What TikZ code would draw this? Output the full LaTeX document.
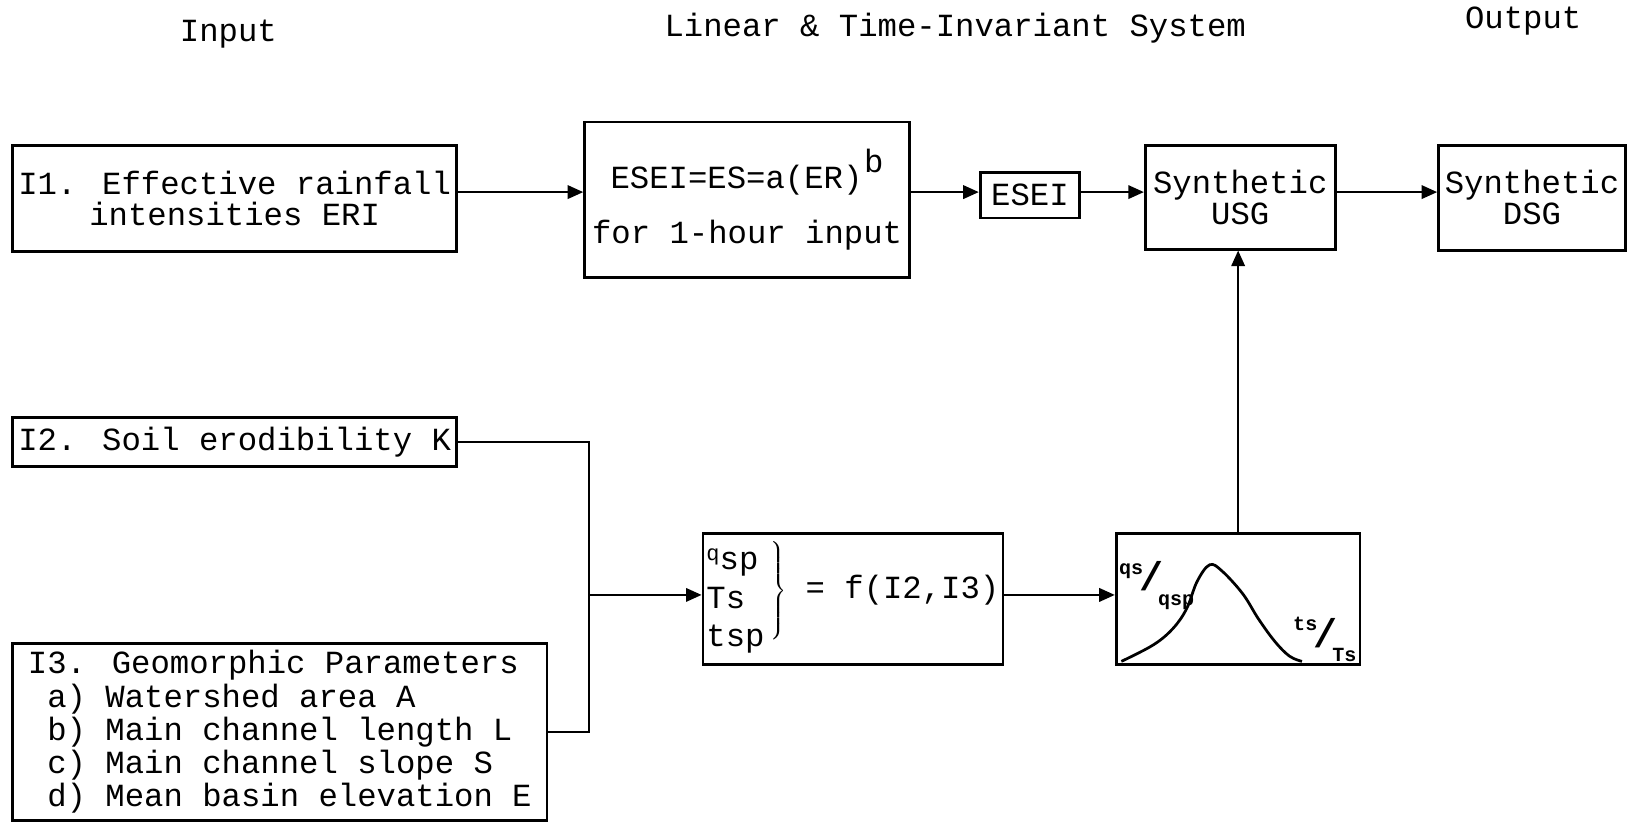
\documentclass[tikz,border=0pt]{standalone}
\usepackage{fontspec}
\newfontfamily\typewriter{Liberation Mono}
\usetikzlibrary{
    arrows.meta,
    positioning,
    calc
}
\newcommand{\slashfrac}[2]{%
    \raisebox{9pt}{#1}%
    \kern-0.2em{\fontsize{22}{22}\selectfont /}\kern-0.25em%
    \raisebox{-8pt}{#2}}

\begin{document}
\begin{tikzpicture}[
    x=0.02cm,
    y=-0.02cm,
    block/.style={
        draw,
        line width=1.5pt,
        inner sep=1pt,
        align=center,
        font=\typewriter\fontsize{17.7}{17}\selectfont
    },
    heading/.style={
        font=\typewriter\fontsize{17.7}{17}\selectfont
    },
    ratio/.style={
        inner sep=0pt,
        font=\typewriter\bfseries\fontsize{11}{11}\selectfont
    },
    arrow/.style={
        -{Triangle[length=0.3cm,width=0.26cm]},
        line width=1.1pt
    },
    link/.style={
        line width=1.1pt
    },
    hydrograph/.style={
        line width=1.5pt
    }
]
\useasboundingbox (0,0) rectangle (1568,792);
%
\node[heading] (hinput) at (220,33) {Input};
\node[heading] (hsystem) at (920,27) {Linear \& Time-Invariant System};
\node[heading] (houtput) at (1467,20) {Output};
%
\node[
    block,
    minimum width=8.56cm,
    minimum height=2.04cm
] (ione) at (226,191) {
    I1. Effective rainfall\\
    intensities ERI
};
%
\node[
    block,
    minimum width=6.26cm,
    minimum height=3.0cm
] (eqbox) at (719.5,192.5) {
    ESEI=ES=a(ER)\kern0.05em\raisebox{0.5em}{b}\\[13pt]
    for 1-hour input
};
%
\node[
    block,
    minimum width=1.92cm,
    minimum height=0.88cm
] (esei) at (992,188) {ESEI};
%
\node[
    block,
    minimum width=3.66cm,
    minimum height=2.0cm
] (usg) at (1194.5,190) {
    Synthetic\\
    USG
};
%
\node[
    block,
    minimum width=3.6cm,
    minimum height=2.02cm
] (dsg) at (1475.5,190.5) {
    Synthetic\\
    DSG
};
%
\node[
    block,
    minimum width=8.56cm,
    minimum height=0.94cm
] (itwo) at (226,425.5) {I2. Soil erodibility K};
%
\node[
    block,
    minimum width=10.3cm,
    minimum height=3.4cm,
    align=left,
    font=\typewriter\fontsize{17.7}{18.2}\selectfont
] (ithree) at (269.5,705) {
    I3. Geomorphic Parameters\\
    \ a) Watershed area A\\
    \ b) Main channel length L\\
    \ c) Main channel slope S\\
    \ d) Mean basin elevation E
};
%
\node[
    block,
    minimum width=5.78cm,
    minimum height=2.52cm,
    font=\typewriter\fontsize{17.7}{21}\selectfont
] (fbox) at (821.5,577) {%
    \raisebox{-0.3em}{\begin{tabular}{@{}l@{}}
        {\fontsize{12}{12}\selectfont\raisebox{0.45em}{q}}sp\\
        Ts\\
        tsp
    \end{tabular}}%
    \kern0.1em$\left.\vcenter{\hbox{\rule{0pt}{1.95cm}}}\right\}$
    = f(I2,I3)%
};
%
\node[
    block,
    minimum width=4.7cm,
    minimum height=2.52cm
] (curvebox) at (1192.5,577) {};
%
\draw[hydrograph]
    plot[smooth, tension=0.6] coordinates {
        (1080,637) (1111,621) (1130,605) (1143,586) (1153,560)
        (1165,544) (1177,550) (1197,572) (1212,596) (1228,618)
        (1242,632) (1254,637)
    };
\node[ratio] (qratio) at (1114,564) {\slashfrac{qs}{qsp}};
\node[ratio] (tratio) at (1276,616) {\slashfrac{ts}{Ts}};
%
\coordinate (toprow) at (0,185);
\coordinate (join) at (567,573);
%
\draw[arrow] (ione.east |- toprow) -- (eqbox.west |- toprow);
\draw[arrow] (eqbox.east |- toprow) -- (esei.west |- toprow);
\draw[arrow] (esei.east |- toprow) -- (usg.west |- toprow);
\draw[arrow] (usg.east |- toprow) -- (dsg.west |- toprow);
%
\draw[link] (itwo.east) -| (join);
\draw[link] (ithree.east) -| (join);
\draw[arrow] (join) -- (fbox.west |- join);
\draw[arrow] (fbox.east |- join) -- (curvebox.west |- join);
%
\draw[arrow] (curvebox.north) -- (usg.south -| curvebox.north);
%
\end{tikzpicture}
\end{document}
